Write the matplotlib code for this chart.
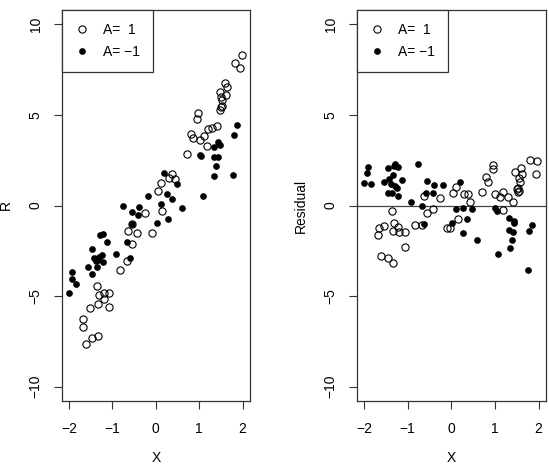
import matplotlib
matplotlib.use("Agg")
import matplotlib.pyplot as plt
from matplotlib.lines import Line2D

plt.rcParams['font.family'] = ['Liberation Sans', 'DejaVu Sans']

# ---- Left panel: R vs X ----
x_open_L = [1.99, 1.82, 1.95, 1.60, 1.64, 1.49, 1.61, 1.51, 1.53, 1.53, 1.48, 1.51,
            0.97, 0.96, 0.80, 0.85, 1.42, 1.30, 1.20, 1.12, 1.01, 1.19, 0.72, 0.38,
            0.31, 0.44, 0.11, 0.06, 0.15, -0.25, -0.55, -0.63, -0.43, -0.08, -0.55,
            -0.66, -0.82, -1.36, -1.31, -1.20, -1.08, -1.20, -1.32, -1.07, -1.52,
            -1.67, -1.68, -1.32, -1.46, -1.61]
r_open_L = [8.32, 7.88, 7.57, 6.74, 6.52, 6.28, 6.12, 6.00, 5.82, 5.51, 5.29, 5.42,
            5.11, 4.79, 3.95, 3.75, 4.39, 4.28, 4.22, 3.82, 3.64, 3.31, 2.85, 1.75,
            1.51, 1.47, 1.25, 0.79, -0.33, -0.39, -1.01, -1.40, -1.51, -1.52, -2.13,
            -3.07, -3.58, -4.44, -4.94, -4.85, -4.81, -5.14, -5.45, -5.58, -5.69,
            -6.28, -6.70, -7.20, -7.33, -7.66]
x_fill_L = [1.87, 1.79, 1.44, 1.47, 1.35, 1.01, 1.05, 1.35, 1.43, 1.38, 1.34, 1.77,
            0.20, 0.50, 1.08, -0.18, 0.25, 0.37, 0.11, 0.60, -0.76, -0.39, -0.55,
            -0.41, 0.28, 0.03, -0.55, -1.22, -1.28, -1.12, -0.66, -0.92, -1.47,
            -1.25, -0.60, -1.42, -1.33, -1.21, -1.55, -1.35, -1.47, -1.92, -1.94,
            -1.83, -2.00, -1.38, -1.30]
r_fill_L = [4.46, 3.91, 3.49, 3.36, 3.25, 2.81, 2.72, 2.66, 2.70, 2.20, 1.62, 1.67,
            1.82, 1.20, 0.51, 0.53, 0.61, 0.37, 0.11, -0.13, 0.00, -0.11, -0.35,
            -0.55, -0.73, -0.95, -1.03, -1.58, -1.62, -2.02, -2.04, -2.66, -2.42,
            -2.74, -2.90, -2.90, -2.99, -3.14, -3.40, -3.40, -3.77, -3.67, -4.08,
            -4.35, -4.81, -3.05, -2.85]

# ---- Right panel: Residual vs X ----
x_open_R = [-0.63, -0.26, -0.43, -0.55, -1.36, -1.31, -1.22, -1.53, -1.66, -1.68,
            -1.34, -1.20, -1.07, -0.82, -0.67, -0.09, -1.07, -1.60, -1.46, -1.33,
            1.81, 1.97, 1.95, 0.96, 0.95, 1.59, 1.62, 1.47, 1.54, 1.58, 1.52, 1.51,
            1.53, 1.55, 0.80, 0.85, 0.71, 1.01, 1.11, 1.19, 1.30, 1.41, 0.10, 0.05,
            0.30, 0.38, 0.42, 1.18, 0.15, -0.04]
res_open_R = [0.52, 0.43, -0.19, -0.43, -0.32, -0.95, -1.20, -1.13, -1.24, -1.63,
              -1.42, -1.46, -1.46, -1.09, -1.06, -1.24, -2.32, -2.80, -2.91, -3.15,
              2.49, 2.45, 1.74, 2.25, 1.99, 2.05, 1.72, 1.83, 1.50, 1.31, 0.95, 0.90,
              0.75, 0.80, 1.59, 1.28, 0.76, 0.63, 0.49, 0.73, 0.45, 0.18, 1.04, 0.67,
              0.63, 0.63, 0.21, -0.25, -0.74, -1.26]
x_fill_R = [-1.91, -1.94, -2.00, -1.84, -1.46, -1.29, -1.21, -0.76, -1.34, -1.54,
            -1.43, -1.39, -1.29, -1.25, -1.46, -1.35, -1.12, -1.21, -0.56, -0.40,
            -0.18, -0.57, -0.43, -0.92, -0.66, -0.63, 0.19, 0.11, 0.26, 0.48, 0.02,
            0.37, 0.27, 0.60, 1.00, 1.05, 1.33, 1.44, 1.33, 1.41, 1.38, 1.34, 1.86,
            1.78, 1.07, 1.76, -1.32, 1.43]
res_fill_R = [2.14, 1.79, 1.22, 1.20, 2.05, 2.29, 2.10, 2.32, 1.70, 1.28,
              1.44, 1.17, 1.09, 0.95, 0.71, 0.71, 1.39, 0.52, 1.37, 1.11,
              1.13, 0.71, 0.71, 0.18, -0.03, -1.02, 1.28, -0.21, -0.12, -0.21, -0.98,
              -0.73, -1.50, -1.88, -0.12, -0.32, -0.69, -0.96, -1.35, -1.46, -1.90, -2.36,
              -1.07, -1.39, -2.67, -3.57, 2.20, -0.85]

yticks = [-10, -5, 0, 5, 10]
xticks = [-2, -1, 0, 1, 2]
ylim = (-10.8, 10.8)
xlim = (-2.16, 2.17)

fig = plt.figure(figsize=(5.49, 4.68), dpi=100)
axL = fig.add_axes([62/549, 67/468, 188/549, 391/468])
axR = fig.add_axes([357/549, 67/468, 189/549, 391/468])

OPEN_MS = 5.2
FILL_MS = 3.8
FS = 10

def style(ax, ylabel):
    ax.set_xlim(xlim)
    ax.set_ylim(ylim)
    ax.set_xticks(xticks)
    ax.set_yticks(yticks)
    ax.set_xticklabels([str(t).replace('-', '\u2212') for t in xticks])
    ax.set_yticklabels([str(t).replace('-', '\u2212') for t in yticks])
    ax.tick_params(axis='both', length=6, width=0.8, labelsize=FS, color='#333333')
    ax.tick_params(axis='x', pad=9)
    ax.tick_params(axis='y', pad=8, labelrotation=90)
    for lab in ax.get_yticklabels():
        lab.set_va('center')
    for s in ax.spines.values():
        s.set_color('#333333')
        s.set_linewidth(0.9)
    ax.set_xlabel('X', fontsize=FS, labelpad=11)
    ax.set_ylabel(ylabel, fontsize=FS, labelpad=11)
    handles = [Line2D([], [], ls='none', marker='o', mfc='none', mec='black',
                      ms=OPEN_MS, mew=0.8),
               Line2D([], [], ls='none', marker='o', mfc='black', mec='black',
                      ms=FILL_MS)]
    leg = ax.legend(handles, ['A=  1', 'A= \u22121'], loc='upper left',
                    bbox_to_anchor=(0, 1), borderaxespad=0, fontsize=FS,
                    frameon=True, fancybox=False, framealpha=1,
                    edgecolor='#333333', handlelength=1.0, handletextpad=1.0,
                    borderpad=0.95, labelspacing=0.55)
    leg.get_frame().set_linewidth(0.9)

axL.plot(x_open_L, r_open_L, ls='none', marker='o', mfc='none', mec='black',
         ms=OPEN_MS, mew=0.8)
axL.plot(x_fill_L, r_fill_L, ls='none', marker='o', mfc='black', mec='black',
         ms=FILL_MS)
style(axL, 'R')

axR.axhline(0, color='#444444', lw=0.9)
axR.plot(x_open_R, res_open_R, ls='none', marker='o', mfc='none', mec='black',
         ms=OPEN_MS, mew=0.8)
axR.plot(x_fill_R, res_fill_R, ls='none', marker='o', mfc='black', mec='black',
         ms=FILL_MS)
style(axR, 'Residual')

fig.savefig('out.png', dpi=100)
